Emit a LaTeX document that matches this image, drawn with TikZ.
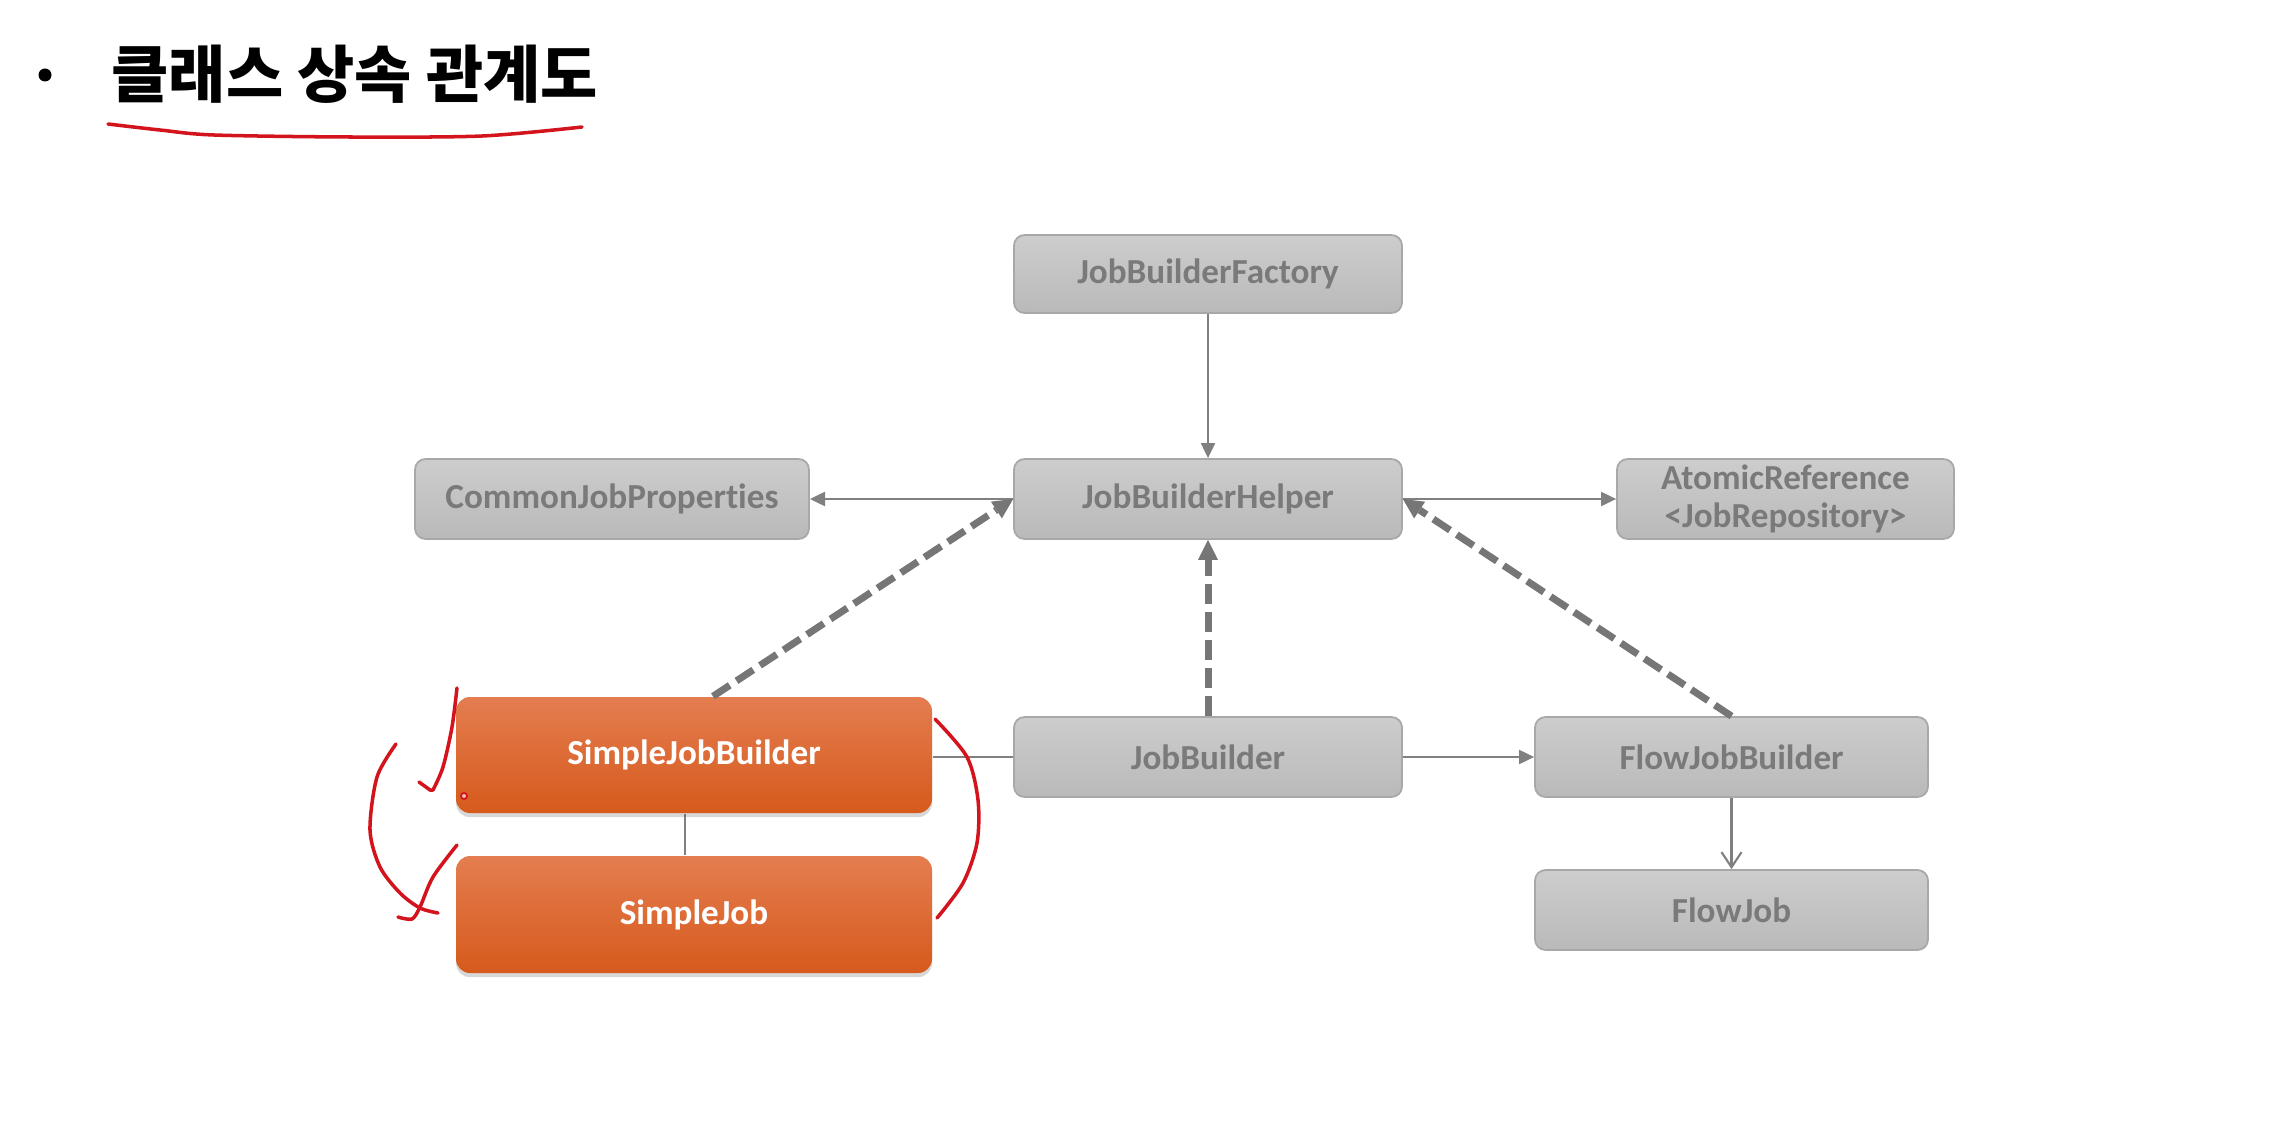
\documentclass[tikz,border=0pt]{standalone}
\usepackage{fontspec}
\setmainfont{Carlito}[Ligatures={NoCommon}]
\newfontfamily\krfont{Noto Sans CJK KR}
\usetikzlibrary{arrows.meta,shadows,calc,backgrounds}
\definecolor{graytop}{HTML}{CDCDCD}
\definecolor{graybot}{HTML}{B9B9B9}
\definecolor{boxline}{HTML}{A8A8A8}
\definecolor{graytext}{HTML}{7A7A7A}
\definecolor{orangetop}{HTML}{E47D50}
\definecolor{orangebot}{HTML}{D65A1C}
\definecolor{linegray}{HTML}{808080}
\definecolor{dashgray}{HTML}{767676}
\definecolor{redink}{HTML}{D3141C}
\tikzset{
  boxfont/.style={font=\bfseries\fontsize{10}{11}\selectfont},
  graybox/.style={boxfont, draw=boxline, line width=0.5pt, rounded corners=3pt,
    top color=graytop, bottom color=graybot, text=graytext, align=center, inner sep=0pt},
  orangebox/.style={boxfont, draw=none, rounded corners=4pt,
    top color=orangetop, bottom color=orangebot, text=white, align=center, inner sep=0pt,
    drop shadow={shadow xshift=0pt, shadow yshift=-1.2pt, opacity=0.22, fill=black!70}},
  thinarrow/.style={draw=linegray, line width=0.6pt, -{Triangle[length=4.3pt,width=4pt]}},
  plainline/.style={draw=linegray, line width=0.6pt},
  openarrow/.style={draw=linegray, line width=0.6pt, -{Straight Barb[length=4.3pt,width=5.7pt]}},
  dasharrow/.style={draw=dashgray, line width=2pt, dash pattern=on 5.7pt off 2.3pt,
    -{Triangle[length=5.7pt,width=5.7pt,line width=0pt]}},
  redstroke/.style={draw=redink, line width=1pt, line cap=round, line join=round},
}
\begin{document}
\begin{tikzpicture}[x=0.1mm,y=-0.1mm]
\useasboundingbox (0,0) rectangle (2290,1122);

% title
\fill[black] (45,75) circle[radius=6.5];
\node[anchor=west, inner sep=0pt, font=\krfont\bfseries\fontsize{17.7}{20}\selectfont] (title) at (111,74) {클래스 상속 관계도};

% nodes
\node[graybox, minimum width=38.8mm, minimum height=7.8mm] (jbf) at (1208,274) {JobBuilderFactory};
\node[graybox, minimum width=39.4mm, minimum height=8mm] (cjp) at (612,499) {CommonJobProperties};
\node[graybox, minimum width=38.8mm, minimum height=8mm] (jbh) at (1208,499) {JobBuilderHelper};
\node[graybox, minimum width=33.7mm, minimum height=8mm] (ar) at (1785.5,499) {AtomicReference\\\textless JobRepository\textgreater};
\node[orangebox, minimum width=47.6mm, minimum height=11.6mm] (sjb) at (694,755) {SimpleJobBuilder};
\node[graybox, minimum width=38.8mm, minimum height=8mm] (jb) at (1208,757) {JobBuilder};
\node[graybox, minimum width=39.3mm, minimum height=8mm] (fjb) at (1731.5,757) {FlowJobBuilder};
\node[orangebox, minimum width=47.6mm, minimum height=11.7mm] (sj) at (694,914.5) {SimpleJob};
\node[graybox, minimum width=39.3mm, minimum height=8mm] (fj) at (1731.5,910) {FlowJob};

% connectors
\begin{scope}[on background layer]
\fill[white] (0,0) rectangle (2290,1122);
\draw[thinarrow] (jbf) -- (jbh);
\draw[thinarrow] (jbh) -- (cjp);
\draw[thinarrow] (jbh) -- (ar);
\draw[plainline] (jb.west) -- (jb.west -| sjb.east);
\draw[thinarrow] (jb) -- (fjb);
\draw[plainline] ($(sjb.south)+(-9,0)$) -- ($(sj.north)+(-9,0)$);
\draw[openarrow] (fjb) -- (fj);
\end{scope}
\draw[dasharrow] ($(sjb.north)+(19,0)$) -- (jbh.west);
\draw[dasharrow] (jb) -- (jbh);
\draw[dasharrow] (fjb.north) -- (jbh.east);

% red hand annotations
\draw[redstroke] plot[smooth] coordinates {(108,124) (160,130) (214,135) (350,137) (482,136) (582,127)};
\draw[redstroke] plot[smooth] coordinates {(457,688) (452,727) (443,767) (433,790)};
\draw[redstroke] (419,782) -- (430,790) -- (433,790);
\draw[redstroke] plot[smooth] coordinates {(396,744) (377,777) (370,830) (380,867) (400,893) (420,908) (438,913)};
\draw[redstroke] plot[smooth] coordinates {(398,917) (412,919) (420,907) (433,877) (457,845)};
\draw[redstroke] plot[smooth] coordinates {(935,719) (967,757) (978,800) (977,843) (963,883) (937,918)};
\draw[draw=redink, line width=0.5pt, fill=orangetop!40] (464,796) circle[radius=3];
\end{tikzpicture}
\end{document}
